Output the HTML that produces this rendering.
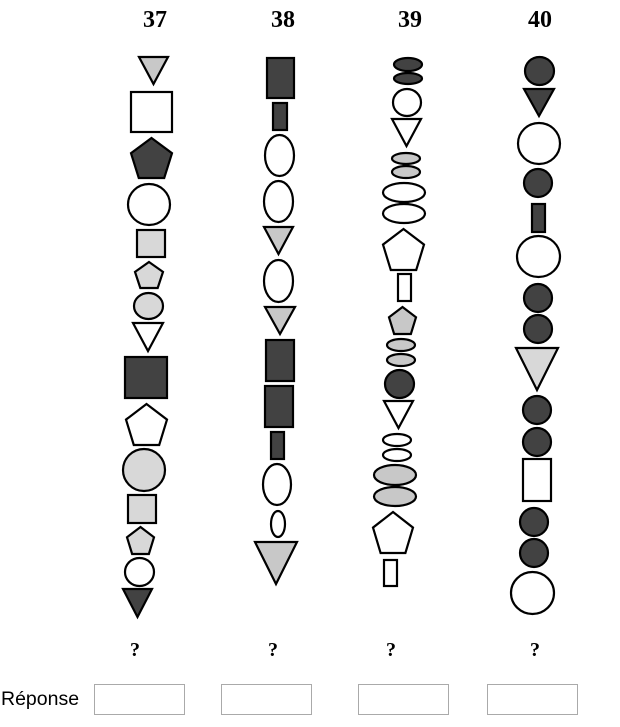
<!DOCTYPE html>
<html><head><meta charset="utf-8"><style>
body{margin:0;width:620px;height:727px;background:#fff;position:relative;overflow:hidden}
.h{position:absolute;font:bold 24px "Liberation Serif",serif;top:6px;width:60px;text-align:center;line-height:28px}
.q{position:absolute;font:bold 20px "Liberation Serif",serif;top:638px;width:40px;text-align:center;line-height:24px}
.box{position:absolute;top:684px;width:91px;height:31px;border:1px solid #aaa;box-sizing:border-box;background:#fff}
.r{position:absolute;left:1px;top:688px;font:19.5px "Liberation Sans",sans-serif}
svg{position:absolute;left:0;top:0}
</style></head><body>
<div class="h" style="left:125px">37</div>
<div class="h" style="left:253px">38</div>
<div class="h" style="left:380px">39</div>
<div class="h" style="left:510px">40</div>
<div class="q" style="left:115px">?</div>
<div class="q" style="left:253px">?</div>
<div class="q" style="left:371px">?</div>
<div class="q" style="left:515px">?</div>
<div class="r">Réponse</div>
<div class="box" style="left:94px"></div>
<div class="box" style="left:221px"></div>
<div class="box" style="left:358px"></div>
<div class="box" style="left:487px"></div>
<svg id="s" width="620" height="727" xmlns="http://www.w3.org/2000/svg"></svg>
<script>
var D='#424242',G='#c8c8c8',L='#d8d8d8',W='#fff';
var S=[
['t',138,56,169,85,G],['r',130,91,173,133,W],['p',130,137,173,179,D],['e',127,183,171,226,W],
['r',136,229,166,258,L],['p',134,261,164,289,L],['e',133,292,164,320,L],['t',132,322,164,352,W],
['r',124,356,168,399,D],['p',125,403,168,446,W],['e',122,448,166,492,L],['r',127,494,157,524,L],
['p',126,526,155,555,L],['e',124,557,155,587,W],['t',122,588,153,618,D],
['r',266,57,295,99,D],['r',272,102,288,131,D],['e',264,134,295,177,W],['e',263,180,294,223,W],
['t',263,226,294,255,G],['e',263,259,294,303,W],['t',264,306,296,335,G],['r',265,339,295,382,D],
['r',264,385,294,428,D],['r',270,431,285,460,D],['e',262,463,292,506,W],['e',270,510,286,538,W],
['t',254,541,298,585,G],
['e',393,57,423,72,D],['e',393,72,423,85,D],['e',392,88,422,117,W],['t',391,118,422,147,W],
['e',391,152,421,165,G],['e',391,165,421,179,G],['e',382,182,426,203,W],['e',382,203,426,224,W],
['p',382,228,425,271,W],['r',397,273,412,302,W],['p',388,306,417,335,G],['e',386,338,416,352,G],
['e',386,353,416,367,G],['e',384,369,415,399,D],['t',383,400,414,429,W],['e',382,433,412,447,W],
['e',382,448,412,462,W],['e',373,464,417,486,G],['e',373,486,417,507,G],['p',372,511,414,554,W],
['r',383,559,398,587,W],
['e',524,56,555,86,D],['t',523,88,555,117,D],['e',517,122,561,165,W],['e',523,168,553,198,D],
['r',531,203,546,233,D],['e',516,235,561,278,W],['e',523,283,553,313,D],['e',523,314,553,344,D],
['t',515,347,559,391,L],['e',522,395,552,425,D],['e',522,427,552,457,D],['r',522,458,552,502,W],
['e',519,507,549,537,D],['e',519,538,549,568,D],['e',510,571,555,615,W]
];
var o='';
S.forEach(function(a){var k=a[0],x0=a[1]+1,y0=a[2]+1,x1=a[3]-1,y1=a[4]-1,f=a[5],w=x1-x0,h=y1-y0,st=' fill="'+f+'" stroke="#000" stroke-width="2.2" stroke-linejoin="miter"/>';
if(k=='r')o+='<rect x="'+x0+'" y="'+y0+'" width="'+w+'" height="'+h+'"'+st;
else if(k=='e')o+='<ellipse cx="'+(x0+w/2)+'" cy="'+(y0+h/2)+'" rx="'+w/2+'" ry="'+h/2+'"'+st;
else if(k=='t')o+='<polygon points="'+x0+','+y0+' '+x1+','+y0+' '+(x0+w/2)+','+y1+'"'+st;
else o+='<polygon points="'+(x0+w/2)+','+y0+' '+x1+','+(y0+0.38*h)+' '+(x0+0.81*w)+','+y1+' '+(x0+0.19*w)+','+y1+' '+x0+','+(y0+0.38*h)+'"'+st;
});
document.getElementById('s').innerHTML=o;
</script>
</body></html>
